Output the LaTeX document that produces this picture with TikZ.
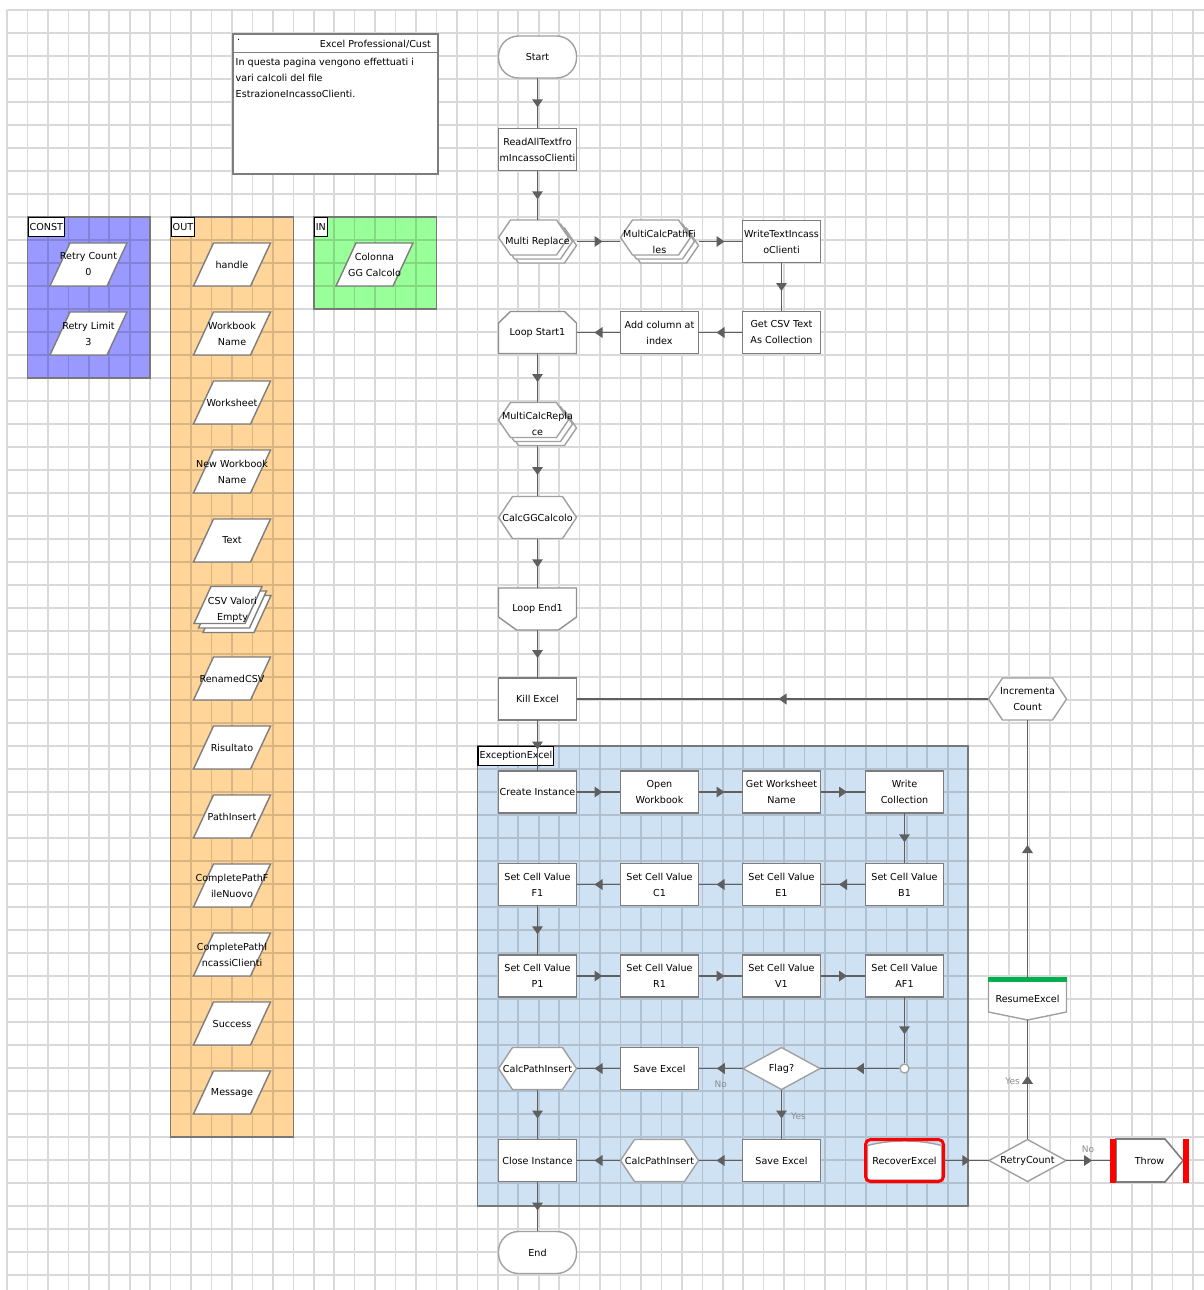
\documentclass[tikz,border=0pt]{standalone}
\usepackage{fontspec}
\setmainfont{DejaVu Sans}
\usetikzlibrary{arrows.meta,decorations.markings}

\definecolor{constfill}{RGB}{153,153,255}
\definecolor{outfill}{RGB}{255,213,153}
\definecolor{infill}{RGB}{153,255,153}
\definecolor{excfill}{RGB}{207,226,243}
\definecolor{linecol}{RGB}{95,95,95}
\definecolor{boxcol}{RGB}{125,125,125}
\definecolor{hexcol}{RGB}{160,160,160}
\definecolor{framecol}{RGB}{120,120,120}
\definecolor{stopred}{RGB}{255,0,0}
\definecolor{resgreen}{RGB}{0,176,80}
\definecolor{labgray}{RGB}{140,140,140}

\newcommand\lblfont{\fontsize{9.6}{16}\selectfont}

\tikzset{
  gridline/.style={draw=black, draw opacity=0.15, line width=1.6pt},
  contframe/.style={draw=framecol, line width=1.5pt},
  tabnode/.style={draw=black, fill=white, line width=1.2pt, anchor=north west,
    inner xsep=1.5pt, inner ysep=0pt, minimum height=19pt, font=\lblfont},
  rectline/.style={draw=boxcol, fill=white, line width=1.6pt},
  hexline/.style={draw=hexcol, fill=white, line width=1.4pt},
  loopline/.style={draw=boxcol!85, fill=white, line width=1.4pt},
  paraline/.style={draw=boxcol, fill=white, line width=1.4pt},
  lbl/.style={inner sep=0pt, minimum width=78pt, minimum height=42pt,
    align=center, font=\lblfont, text=black},
  plaintext/.style={inner sep=0pt, font=\lblfont, text=black},
  elabel/.style={inner sep=1pt, font=\fontsize{9}{10}\selectfont, text=labgray},
  flow/.style={draw=linecol, line width=1.4pt, postaction={decorate},
    decoration={markings, mark=at position 0.5 with
      {\fill[linecol] (4,0) -- (-4,5.5) -- (-4,-5.5) -- cycle;}}},
}

% ---- stage shapes: outline first, then the named text node on top ----
\newcommand\fcRect[4]{%
  \draw[rectline,shift={(#2,#3)}] (-39,-21) rectangle (39,21);
  \node[lbl] (#1) at (#2,#3) {#4};}
\newcommand\fcTerm[4]{%
  \draw[hexline,rounded corners=20pt,shift={(#2,#3)}] (-39,-21) rectangle (39,21);
  \node[lbl] (#1) at (#2,#3) {#4};}
\newcommand\fcHex[4]{%
  \draw[hexline,shift={(#2,#3)}] (-39,0) -- (-25,-21) -- (25,-21) -- (39,0)
    -- (25,21) -- (-25,21) -- cycle;
  \node[lbl] (#1) at (#2,#3) {#4};}
\newcommand\fcMHex[4]{%
  \foreach \offs in {8,4,0}{%
    \draw[hexline,shift={(#2-4+\offs,#3-4+\offs)}] (-35,0) -- (-23,-17.5)
      -- (23,-17.5) -- (35,0) -- (23,17.5) -- (-23,17.5) -- cycle;}
  \node[lbl,minimum height=43pt] (#1) at (#2,#3) {#4};}
\newcommand\fcLStart[4]{%
  \draw[loopline,shift={(#2,#3)}] (-39,21) -- (-39,-9.5) -- (-27,-21)
    -- (27,-21) -- (39,-9.5) -- (39,21) -- cycle;
  \node[lbl] (#1) at (#2,#3) {#4};}
\newcommand\fcLEnd[4]{%
  \draw[loopline,shift={(#2,#3)}] (-39,-21) -- (39,-21) -- (39,8)
    -- (21,21) -- (-21,21) -- (-39,8) -- cycle;
  \node[lbl] (#1) at (#2,#3) {#4};}
\newcommand\fcDiam[4]{%
  \draw[hexline,shift={(#2,#3)}] (-38.5,0) -- (0,-21) -- (38.5,0) -- (0,21) -- cycle;
  \node[lbl,minimum width=77pt] (#1) at (#2,#3) {#4};}
\newcommand\fcPara[4]{%
  \draw[paraline,shift={(#2,#3)}] (-18.5,-21.5) -- (38.5,-21.5) -- (18.5,21.5)
    -- (-38.5,21.5) -- cycle;
  \node[lbl,minimum width=77pt,minimum height=43pt] (#1) at (#2,#3) {#4};}
\newcommand\fcMPara[4]{%
  \foreach \offs in {9,4.5,0}{%
    \draw[paraline,shift={(#2-4.5+\offs,#3-4.5+\offs)}] (-17,-18.5) -- (34,-18.5)
      -- (17,18.5) -- (-34,18.5) -- cycle;}
  \node[lbl,minimum width=77pt,minimum height=46pt] (#1) at (#2,#3) {#4};}
\newcommand\fcResume[4]{%
  \draw[hexline,shift={(#2,#3)}] (-39,-21) -- (39,-21) -- (39,13) -- (0,21)
    -- (-39,13) -- cycle;
  \fill[resgreen,shift={(#2,#3)}] (-39.8,-21.8) rectangle (39.8,-16.8);
  \node[lbl] (#1) at (#2,#3) {#4};}
\newcommand\fcRecover[4]{%
  \draw[hexline,shift={(#2,#3)}] (-37,-15) .. controls (-15,-21) and (15,-21) .. (37,-15)
    -- (37,19.5) -- (-37,19.5) -- cycle;
  \draw[draw=stopred,line width=3pt,rounded corners=5pt,shift={(#2,#3)}]
    (-39,-21) rectangle (39,21);
  \node[lbl] (#1) at (#2,#3) {#4};}
\newcommand\fcThrow[4]{%
  \draw[rectline,shift={(#2,#3)}] (-33.5,-21.5) -- (15.5,-21.5) -- (33.5,0)
    -- (15.5,21.5) -- (-33.5,21.5) -- cycle;
  \fill[stopred,shift={(#2,#3)}] (-39.5,-22) rectangle (-33.5,22);
  \fill[stopred,shift={(#2,#3)}] (33.5,-22) rectangle (39.5,22);
  \node[lbl,minimum width=79pt] (#1) at (#2,#3) {#4};}

\begin{document}
\begin{tikzpicture}[x=1pt,y=-1pt]
\useasboundingbox (0,0) rectangle (1204,1290);
\fill[white] (0,0) rectangle (1204,1290);

% ---- data containers and exception block (fills under the grid) ----
\fill[constfill] (27.5,217) rectangle (150.2,378);
\fill[outfill] (170.6,217) rectangle (293.3,1137);
\fill[infill] (313.8,217) rectangle (436.5,309);
\fill[excfill] (477.4,746) rectangle (968.2,1206);

% ---- page grid ----
\draw[gridline]
  \foreach \i in {0,...,58} { ({7+\i*20.45},10) -- ({7+\i*20.45},1290) }
  \foreach \j in {0,...,55} { (7,{10+\j*23}) -- (1204,{10+\j*23}) };

\draw[contframe] (27.5,217) rectangle (150.2,378);
\draw[contframe] (170.6,217) rectangle (293.3,1137);
\draw[contframe] (313.8,217) rectangle (436.5,309);
\draw[contframe] (477.4,746) rectangle (968.2,1206);
\node[tabnode] (consttab) at (27.5,217) {CONST};
\node[tabnode] (outtab) at (170.6,217) {OUT};
\node[tabnode] (intab) at (313.8,217) {IN};
\node[tabnode] (exctab) at (477.4,746) {ExceptionExcel};

% ---- page note ----
\node[draw=boxcol, fill=white, line width=1.3pt, minimum width=205pt,
      minimum height=140pt, inner sep=0pt] (note) at (335.5,104) {};
\draw[boxcol, line width=1.2pt] ([yshift=-19pt]note.north west) -- ([yshift=-19pt]note.north east);
\node[plaintext, anchor=base west] (notedot) at (237,41) {.};
\node[plaintext, anchor=base east] (notehead) at (431,47.5) {Excel Professional/Cust};
\node[plaintext, anchor=base west] (noteline1) at (235.5,65.5) {In questa pagina vengono effettuati i};
\node[plaintext, anchor=base west] (noteline2) at (235.5,81.5) {vari calcoli del file};
\node[plaintext, anchor=base west] (noteline3) at (235.5,97.5) {EstrazioneIncassoClienti.};

% ---- data items ----
\fcPara{retrycnt}{88.5}{264.5}{Retry Count\\0}
\fcPara{retrylim}{88.5}{333.5}{Retry Limit\\3}
\fcPara{colonna}{374.5}{264.5}{Colonna\\GG Calcolo}
\fcPara{handle}{232}{264.5}{handle}
\fcPara{wbname}{232}{333.5}{Workbook\\Name}
\fcPara{wsname}{232}{402.5}{Worksheet}
\fcPara{newwb}{232}{471.5}{New Workbook\\Name}
\fcPara{textout}{232}{540.5}{Text}
\fcMPara{csvval}{232.5}{609.5}{CSV Valori\\Empty}
\fcPara{renamed}{232}{678.5}{RenamedCSV}
\fcPara{risultato}{232}{747.5}{Risultato}
\fcPara{pathins}{232}{816.5}{PathInsert}
\fcPara{cpfile}{232}{885.5}{CompletePathF\\ileNuovo}
\fcPara{cpincassi}{232}{954.5}{CompletePathI\\ncassiClienti}
\fcPara{success}{232}{1023.5}{Success}
\fcPara{message}{232}{1092.5}{Message}

% ---- main flow ----
\fcTerm{start}{537.5}{57}{Start}
\fcRect{readall}{537.5}{149.5}{ReadAllTextfro\\mIncassoClienti}
\fcMHex{multirep}{537.5}{241.5}{Multi Replace}
\fcMHex{multipath}{659.5}{241.5}{MultiCalcPathFi\\les}
\fcRect{writetext}{781.5}{241.5}{WriteTextIncass\\oClienti}
\fcRect{getcsv}{781.5}{332.5}{Get CSV Text\\As Collection}
\fcRect{addcol}{659.5}{332.5}{Add column at\\index}
\fcLStart{loopstart}{537.5}{332.5}{Loop Start1}
\fcMHex{multicalc}{537.5}{424}{MultiCalcRepla\\ce}
\fcHex{calcgg}{537.5}{517.5}{CalcGGCalcolo}
\fcLEnd{loopend}{537.5}{609}{Loop End1}
\fcRect{killexcel}{537.5}{699}{Kill Excel}
\fcHex{incr}{1027.5}{699}{Incrementa\\Count}

% ---- exception block ----
\fcRect{create}{537.5}{792}{Create Instance}
\fcRect{openwb}{659.5}{792}{Open\\Workbook}
\fcRect{getws}{781.5}{792}{Get Worksheet\\Name}
\fcRect{writecoll}{904.5}{792}{Write\\Collection}
\fcRect{setb}{904.5}{884.5}{Set Cell Value\\B1}
\fcRect{sete}{781.5}{884.5}{Set Cell Value\\E1}
\fcRect{setc}{659.5}{884.5}{Set Cell Value\\C1}
\fcRect{setf}{537.5}{884.5}{Set Cell Value\\F1}
\fcRect{setp}{537.5}{976}{Set Cell Value\\P1}
\fcRect{setr}{659.5}{976}{Set Cell Value\\R1}
\fcRect{setv}{781.5}{976}{Set Cell Value\\V1}
\fcRect{setaf}{904.5}{976}{Set Cell Value\\AF1}
\node[circle, draw=hexcol, fill=white, line width=1.3pt, minimum size=9pt,
      inner sep=0pt] (junc) at (904.5,1068.5) {};
\fcDiam{flag}{781.5}{1068.5}{Flag?}
\fcRect{saveno}{659.5}{1068.5}{Save Excel}
\fcHex{pathno}{537.5}{1068.5}{CalcPathInsert}
\fcRect{saveyes}{781.5}{1160.5}{Save Excel}
\fcHex{pathyes}{659.5}{1160.5}{CalcPathInsert}
\fcRect{closeinst}{537.5}{1160.5}{Close Instance}
\fcRecover{recover}{904.5}{1160.5}{RecoverExcel}
\fcDiam{retry}{1027.5}{1160.5}{RetryCount}
\fcResume{resume}{1027.5}{999}{ResumeExcel}
\fcThrow{throw}{1149.5}{1160.5}{Throw}
\fcTerm{endnode}{537.5}{1252.5}{End}

% ---- connectors ----
\draw[flow] (start) -- (readall);
\draw[flow] (readall) -- (multirep);
\draw[flow] (multirep) -- (multipath);
\draw[flow] (multipath) -- (writetext);
\draw[flow] (writetext) -- (getcsv);
\draw[flow] (getcsv) -- (addcol);
\draw[flow] (addcol) -- (loopstart);
\draw[flow] (loopstart) -- (multicalc);
\draw[flow] (multicalc) -- (calcgg);
\draw[flow] (calcgg) -- (loopend);
\draw[flow] (loopend) -- (killexcel);
\draw[flow] (killexcel) -- (create);
\draw[flow] (incr) -- (killexcel);
\draw[flow] (create) -- (openwb);
\draw[flow] (openwb) -- (getws);
\draw[flow] (getws) -- (writecoll);
\draw[flow] (writecoll) -- (setb);
\draw[flow] (setb) -- (sete);
\draw[flow] (sete) -- (setc);
\draw[flow] (setc) -- (setf);
\draw[flow] (setf) -- (setp);
\draw[flow] (setp) -- (setr);
\draw[flow] (setr) -- (setv);
\draw[flow] (setv) -- (setaf);
\draw[flow] (setaf) -- (junc);
\draw[flow] (junc) -- (flag);
\draw[flow] (flag) -- node[elabel, below=11pt] (nolabel) {No} (saveno);
\draw[flow] (saveno) -- (pathno);
\draw[flow] (pathno) -- (closeinst);
\draw[flow] (flag) -- node[elabel, right=8pt, pos=0.54] (yeslabel) {Yes} (saveyes);
\draw[flow] (saveyes) -- (pathyes);
\draw[flow] (pathyes) -- (closeinst);
\draw[flow] (closeinst) -- (endnode);
\draw[flow] (recover) -- (retry);
\draw[flow] (retry) -- node[elabel, left=6pt, pos=0.49] (retryyes) {Yes} (resume);
\draw[flow] (resume) -- (incr);
\draw[flow] (retry) -- node[elabel, above=6pt] (retryno) {No} (throw);
\end{tikzpicture}
\end{document}
